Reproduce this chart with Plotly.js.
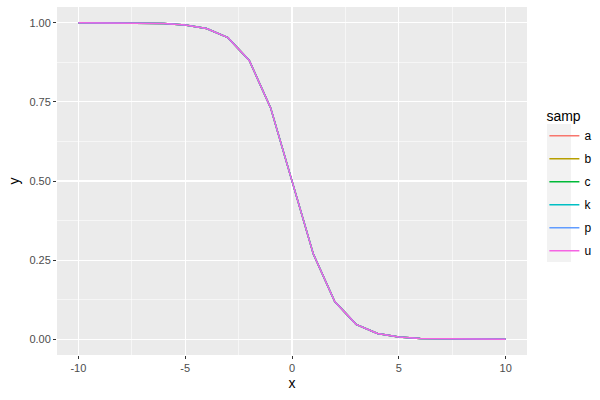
<!DOCTYPE html>
<html>
<head>
<meta charset="utf-8">
<script src="https://cdn.plot.ly/plotly-3.0.1.min.js"></script>
<style>html,body{margin:0;padding:0;background:#fff}#chart{width:600px;height:400px}</style>
</head>
<body>
<div id="chart"></div>
<script>
var samples = ["a", "b", "c", "k", "p", "u"];
var colors = ["#F8766D", "#B79F00", "#00BA38", "#00BFC4", "#619CFF", "#F564E3"];
var xValues = [-10, -9, -8, -7, -6, -5, -4, -3, -2, -1, 0, 1, 2, 3, 4, 5, 6, 7, 8, 9, 10];
var yValues = [1.000, 1.000, 1.000, 0.999, 0.998, 0.993, 0.982, 0.953, 0.881, 0.731, 0.500,
               0.269, 0.119, 0.047, 0.018, 0.007, 0.002, 0.001, 0.000, 0.000, 0.000];
var xTicks = [-10, -5, 0, 5, 10];
var xTickLabels = ["-10", "-5", "0", "5", "10"];
var yTicks = [0, 0.25, 0.5, 0.75, 1];
var yTickLabels = ["0.00", "0.25", "0.50", "0.75", "1.00"];

var traces = samples.map(function (s, i) {
  return {
    x: xValues, y: yValues, name: s, type: "scatter", mode: "lines",
    legendgroup: s,
    line: {color: colors[i], width: 1.4}
  };
});

var axisCommon = {
  showgrid: true, gridcolor: "#ffffff", gridwidth: 1.1,
  zeroline: false, showline: false,
  ticks: "outside", ticklen: 3, tickwidth: 1, tickcolor: "#333333",
  tickfont: {family: "Liberation Sans, Arial, sans-serif", size: 11, color: "#4d4d4d"},
  tickmode: "array"
};

var layout = {
  width: 600, height: 400,
  margin: {l: 57, r: 73, t: 7, b: 45, autoexpand: false},
  paper_bgcolor: "#ffffff",
  plot_bgcolor: "#ebebeb",
  font: {family: "Liberation Sans, Arial, sans-serif", color: "#000000"},
  xaxis: Object.assign({}, axisCommon, {
    range: [-11, 11], tickvals: xTicks, ticktext: xTickLabels,
    minor: {tickmode: "array", tickvals: [-7.5, -2.5, 2.5, 7.5], showgrid: true, gridcolor: "#ffffff", gridwidth: 0.55, ticks: ""},
    title: {text: "x", font: {size: 14, color: "#000000"}, standoff: 4}
  }),
  yaxis: Object.assign({}, axisCommon, {
    range: [-0.05, 1.05], tickvals: yTicks, ticktext: yTickLabels,
    minor: {tickmode: "array", tickvals: [0.125, 0.375, 0.625, 0.875], showgrid: true, gridcolor: "#ffffff", gridwidth: 0.55, ticks: ""},
    title: {text: "y", font: {size: 14, color: "#000000"}, standoff: 6}
  }),
  showlegend: true,
  legend: {
    x: 1.037, xanchor: "left", y: 0.49, yanchor: "middle",
    bgcolor: "rgba(0,0,0,0)",
    title: {text: "samp", font: {size: 14, color: "#000000"}},
    font: {size: 12, color: "#000000"},
    tracegroupgap: 4,
    itemwidth: 30
  },
  shapes: [{
    type: "rect", xref: "paper", yref: "paper",
    x0: 1.0426, x1: 1.0936, y0: 0.267, y1: 0.664,
    fillcolor: "#f2f2f2", line: {width: 0}, layer: "below"
  }]
};

Plotly.newPlot("chart", traces, layout, {displayModeBar: false, staticPlot: true});
</script>
</body>
</html>
